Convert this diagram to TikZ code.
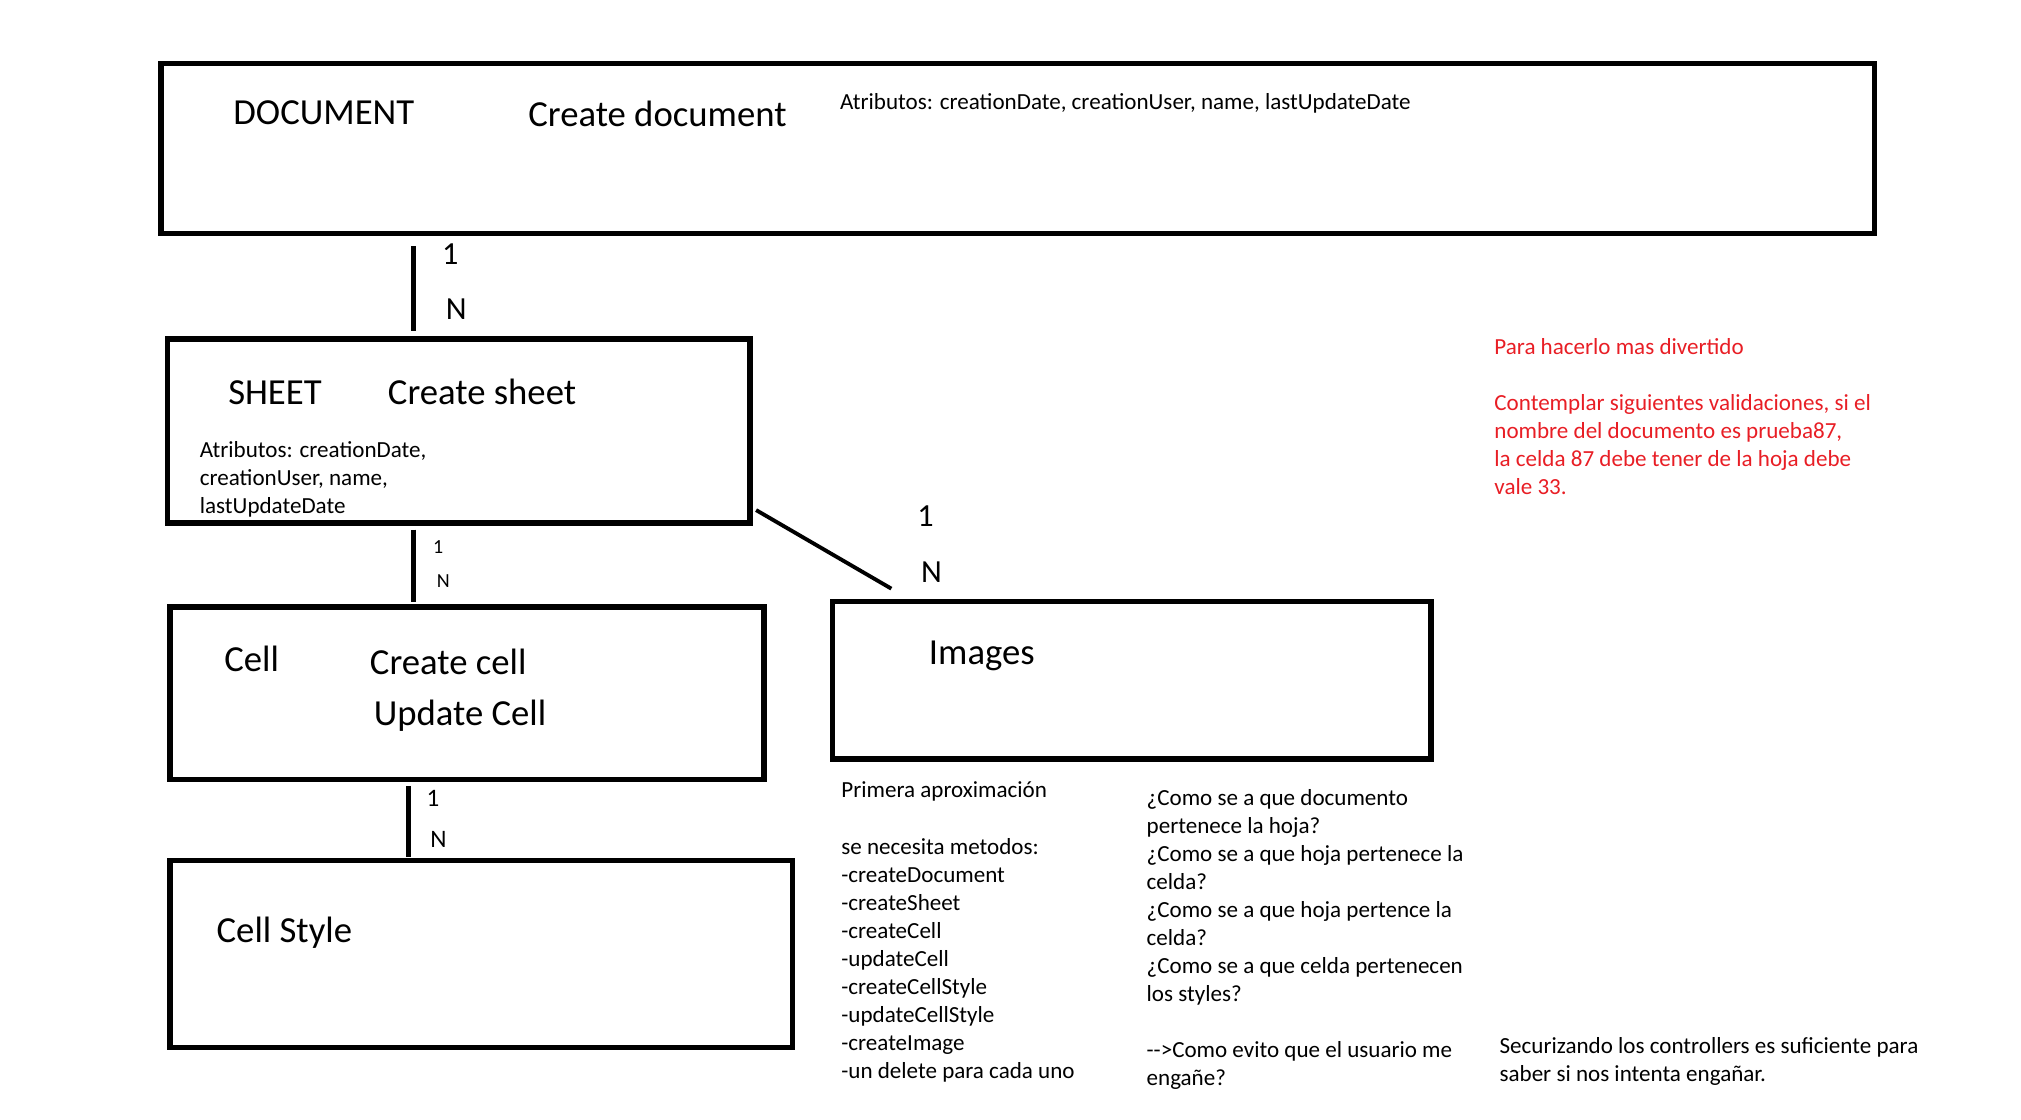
\documentclass[tikz,border=0pt]{standalone}
\usepackage{fontspec}
\setmainfont{Carlito}
\definecolor{notered}{RGB}{232,30,37}
\newcommand{\fsmall}{\fontsize{17.9}{21.75}\selectfont}
\newcommand{\fbig}{\fontsize{28.5}{33}\selectfont}
\newcommand{\fcard}{\fontsize{25}{29}\selectfont}
\newcommand{\fcardsm}{\fontsize{15.5}{18}\selectfont}
\newcommand{\fcardmd}{\fontsize{19.5}{22}\selectfont}
\begin{document}
\begin{tikzpicture}[x=1pt,y=-1pt,
  entity/.style={draw,line width=4.2pt,anchor=north west,inner sep=0pt},
  txt/.style={anchor=base west,inner sep=0pt,align=left},
  rel/.style={line width=3.5pt}]
\useasboundingbox (0,0) rectangle (1569,869.5);
% boxes
\node[entity,minimum width=1330pt,minimum height=132pt] (doc) at (123,47) {};
\node[entity,minimum width=452pt,minimum height=143pt] (sheet) at (128,261) {};
\node[entity,minimum width=461pt,minimum height=134pt] (cell) at (130,469) {};
\node[entity,minimum width=483pt,minimum height=145pt] (style) at (130,666) {};
\node[entity,minimum width=465pt,minimum height=122pt] (img) at (644,465) {};
% box texts
\node[txt,font=\fbig] (docname) at (181,97) {DOCUMENT};
\node[txt,font=\fbig] (docop) at (410,98) {Create document};
\node[txt,font=\fsmall] (docattr) at (652,85) {Atributos: creationDate, creationUser, name, lastUpdateDate};
\node[txt,font=\fbig] (sheetname) at (177,314) {SHEET};
\node[txt,font=\fbig] (sheetop) at (301,314) {Create sheet};
\node[txt,font=\fsmall] (sheetattr) at (155,399) {Atributos: creationDate,\\creationUser, name,\\lastUpdateDate};
\node[txt,font=\fbig] (cellname) at (174,521) {Cell};
\node[txt,font=\fbig] (cellop1) at (287,524) {Create cell};
\node[txt,font=\fbig] (cellop2) at (290,563) {Update Cell};
\node[txt,font=\fbig] (stylename) at (168,732) {Cell Style};
\node[txt,font=\fbig] (imgname) at (721,516) {Images};
% connectors
\draw[rel,shorten <=8pt,shorten >=4pt] (doc.south -| 321,0) -- (sheet.north -| 321,0);
\draw[rel,shorten <=3pt,shorten >=2pt] (sheet.south -| 321,0) -- (cell.north -| 321,0);
\draw[rel,shorten <=3pt,shorten >=1pt] (cell.south -| 317,0) -- (style.north -| 317,0);
\coordinate (diagA) at (587,396);
\coordinate (diagB) at (692,457);
\draw[line width=3pt] (diagA) -- (diagB);
% cardinalities
\node[txt,font=\fcard] (c1a) at (343,205) {1};
\node[txt,font=\fcard] (c1b) at (346,248) {N};
\node[txt,font=\fcardsm] (c2a) at (336,430) {1};
\node[txt,font=\fcardsm] (c2b) at (339,456) {N};
\node[txt,font=\fcardmd] (c3a) at (331,626) {1};
\node[txt,font=\fcardmd] (c3b) at (334,658) {N};
\node[txt,font=\fcard] (c4a) at (712,409) {1};
\node[txt,font=\fcard] (c4b) at (715,452) {N};
% notes
\node[txt,font=\fsmall] (notea) at (653,837) {Primera aproximación\\\mbox{}\\se necesita metodos:\\-createDocument\\-createSheet\\-createCell\\-updateCell\\-createCellStyle\\-updateCellStyle\\-createImage\\-un delete para cada uno};
\node[txt,font=\fsmall] (noteb) at (890,843) {¿Como se a que documento\\pertenece la hoja?\\¿Como se a que hoja pertenece la\\celda?\\¿Como se a que hoja pertence la\\celda?\\¿Como se a que celda pertenecen\\los styles?\\\mbox{}\\-{}-{}>Como evito que el usuario me\\engañe?};
\node[txt,font=\fsmall] (notec) at (1164,840) {Securizando los controllers es suficiente para\\saber si nos intenta engañar.};
\node[txt,font=\fsmall,text=notered] (noted) at (1160,384) {Para hacerlo mas divertido\\\mbox{}\\Contemplar siguientes validaciones, si el\\nombre del documento es prueba87,\\la celda 87 debe tener de la hoja debe\\vale 33.};
\end{tikzpicture}
\end{document}
